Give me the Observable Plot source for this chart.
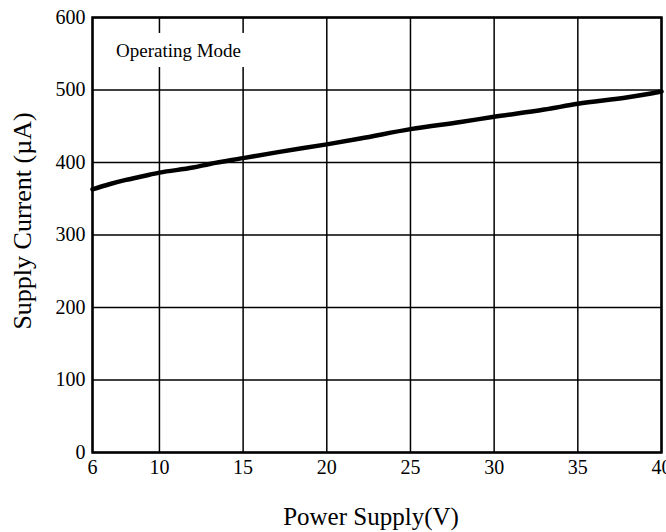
<!DOCTYPE html>
<html>
<head>
<meta charset="utf-8">
<script src="https://cdn.jsdelivr.net/npm/d3@7"></script>
<script src="https://cdn.jsdelivr.net/npm/@observablehq/plot@0.6"></script>
<style>
  html, body { margin: 0; padding: 0; background: #fff; }
  #chart { width: 666px; height: 532px; }
  #chart svg text { font-family: "Liberation Serif", "Times New Roman", serif; }
</style>
</head>
<body>
<div id="chart"></div>
<script>
// Data
const voltage = [6, 7, 8, 9, 10, 12, 13, 15, 17, 20, 22, 25, 28, 30, 33, 35, 38, 40];
const current = [363, 370, 376, 381, 386, 393, 398, 406, 414, 425, 433, 446, 456, 463, 473, 481, 490, 498];
const xTicks = [6, 10, 15, 20, 25, 30, 35, 40];
const yTicks = [0, 100, 200, 300, 400, 500, 600];
const xTitle = "Power Supply(V)";
const yTitle = "Supply Current (µA)";
const noteText = "Operating Mode";
const noteX = [6.5, 15.3];   // annotation box span (V)
const noteY = [531, 578];    // annotation box span (µA)

const data = voltage.map((v, i) => ({v, c: current[i]}));
const FONT = "Liberation Serif";

const chart = Plot.plot({
  width: 666,
  height: 532,
  marginLeft: 92,
  marginRight: 5,
  marginTop: 17,
  marginBottom: 80,
  style: {fontFamily: FONT, fontSize: "20px", color: "#000", background: "#fff", overflow: "visible"},
  x: {domain: [6, 40], label: null, axis: null},
  y: {domain: [0, 600], label: null, axis: null},
  marks: [
    Plot.gridX(xTicks, {stroke: "#000", strokeOpacity: 1, strokeWidth: 1.5}),
    Plot.gridY(yTicks, {stroke: "#000", strokeOpacity: 1, strokeWidth: 1.5}),
    Plot.rect([{}], {x1: noteX[0], x2: noteX[1], y1: noteY[0], y2: noteY[1], fill: "#fff"}),
    Plot.text([noteText], {x: (noteX[0] + noteX[1]) / 2, y: (noteY[0] + noteY[1]) / 2, dx: 4, text: d => d, fontFamily: FONT, fontSize: 19, fill: "#000"}),
    Plot.line(data, {x: "v", y: "c", stroke: "#000", strokeWidth: 4.5, curve: "monotone-x"}),
    Plot.frame({stroke: "#000", strokeWidth: 2.5}),
    Plot.axisX({ticks: xTicks, tickSize: 0, tickPadding: 7, label: null, fontFamily: FONT, fontSize: 20, fill: "#000"}),
    Plot.axisY({ticks: yTicks, tickSize: 0, tickPadding: 7, label: null, fontFamily: FONT, fontSize: 20, fill: "#000"}),
    Plot.text([xTitle], {frameAnchor: "bottom", dy: 72, dx: -6, text: d => d, fontFamily: FONT, fontSize: 25, fill: "#000"}),
    Plot.text([yTitle], {frameAnchor: "left", textAnchor: "middle", dx: -70, dy: -14, rotate: -90, text: d => d, fontFamily: FONT, fontSize: 26, fill: "#000"})
  ]
});
document.getElementById("chart").appendChild(chart);
</script>
</body>
</html>
